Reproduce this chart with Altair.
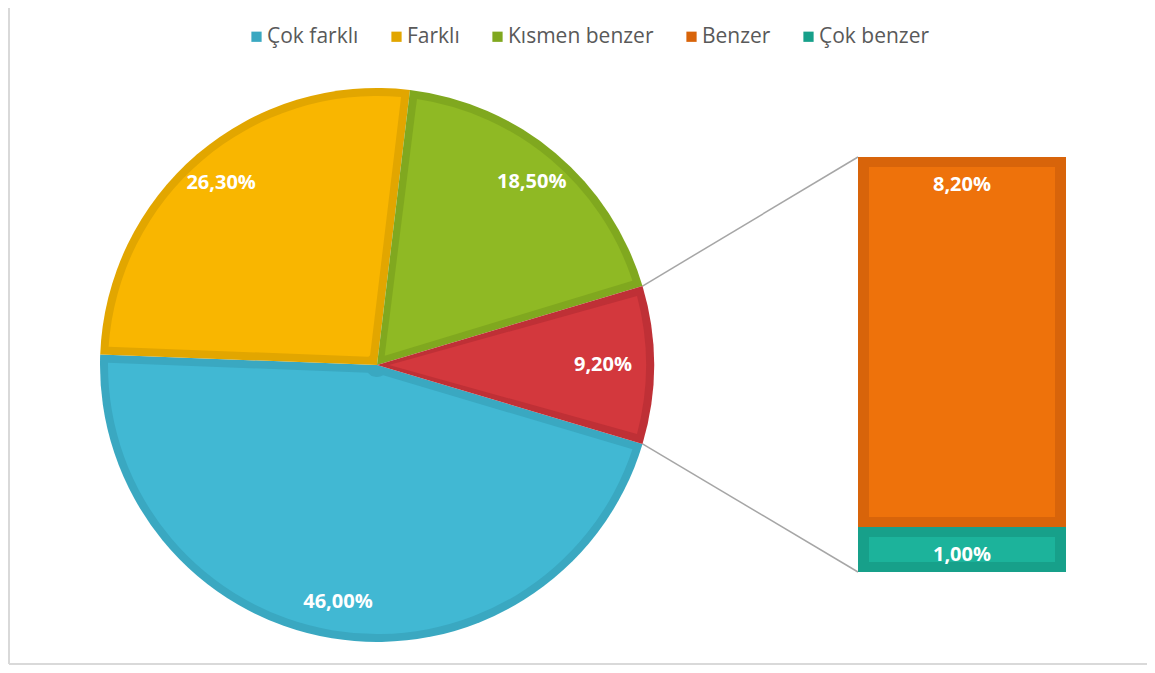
import math
import altair as alt
import pandas as pd

# ---- data ----
pie_labels = ["Çok farklı", "Farklı", "Kısmen benzer", "Diğer"]
pie_values = [46.0, 26.3, 18.5, 9.2]
bar_labels = ["Benzer", "Çok benzer"]
bar_values = [8.2, 1.0]
legend_order = ["Çok farklı", "Farklı", "Kısmen benzer", "Benzer", "Çok benzer"]

# ---- styles ----
cats = pie_labels + bar_labels
dark = ["#3AA8C1", "#E2A600", "#80A81F", "#BF3036", "#D8640A", "#17A08A"]
light = ["#41B8D3", "#F9B600", "#8FB924", "#D3383D", "#EE720B", "#1CB39B"]
FONT = "Open Sans"

W, H = 1139, 657
CX, CY, R = 369, 357, 277
PIE_BORDER = 8
BX0, BX1, BY_TOP, BY_BOT = 850, 1058, 149, 564
BAR_BORDER = 10


def fmt(v):
    return f"{v:.2f}".replace(".", ",") + "%"


total = sum(pie_values)
other_frac = pie_values[-1] / total
start = math.pi / 2 + other_frac * math.pi  # "other" slice centred on the right

pie = pd.DataFrame({
    "cat": pie_labels,
    "value": pie_values,
    "idx": list(range(len(pie_labels))),
})
pie["label_main"] = [fmt(v) if c != "Diğer" else "" for c, v in zip(pie_labels, pie_values)]
pie["label_other"] = [fmt(v) if c == "Diğer" else "" for c, v in zip(pie_labels, pie_values)]

bar_total = sum(bar_values)
bottoms = []
acc = bar_total
for v in bar_values:
    acc -= v
    bottoms.append(acc)
bar = pd.DataFrame({
    "cat": bar_labels,
    "value": bar_values,
    "bottom": bottoms,
    "top": [b + v for b, v in zip(bottoms, bar_values)],
    "label": [fmt(v) for v in bar_values],
})

# connector lines: from the edges of the "other" slice to the bar corners
a_top = start - 2 * math.pi * other_frac
a_bot = start
conn = pd.DataFrame({
    "x": [CX + R * math.sin(a_top), CX + R * math.sin(a_bot)],
    "y": [CY - R * math.cos(a_top), CY - R * math.cos(a_bot)],
    "x2": [BX0, BX0],
    "y2": [BY_TOP, BY_BOT],
})

theta_scale = alt.Scale(range=[start, start + 2 * math.pi])
color_scale = alt.Scale(domain=cats, range=dark)
fill_scale = alt.Scale(domain=cats, range=light)
y_bar = alt.Scale(domain=[0, bar_total], range=[BY_BOT, BY_TOP], nice=False, zero=True)

legend = alt.Legend(
    title=None, values=legend_order, orient="none", direction="horizontal",
    legendX=238, legendY=18, symbolType="square", symbolSize=105,
    symbolStrokeWidth=0, labelFont=FONT, labelFontSize=21, labelColor="#595959",
    columnPadding=27, labelOffset=0,
)

base_pie = alt.Chart(pie).encode(
    theta=alt.Theta("value:Q", stack=True, scale=theta_scale),
    order=alt.Order("idx:Q"),
    x=alt.value(CX), y=alt.value(CY),
)

pie_dark = base_pie.mark_arc(outerRadius=R).encode(
    color=alt.Color("cat:N", scale=color_scale, legend=legend)
)
pie_light = base_pie.mark_arc(
    outerRadius=R - PIE_BORDER, innerRadius=12,
    padAngle=2 * PIE_BORDER / (R - PIE_BORDER),
).encode(fill=alt.Fill("cat:N", scale=fill_scale, legend=None))

pie_text = base_pie.mark_text(
    radius=240, font=FONT, fontSize=20, fontWeight="bold", color="white",
    align="center", baseline="middle",
).encode(text="label_main:N")
pie_text2 = base_pie.mark_text(
    radius=226, font=FONT, fontSize=20, fontWeight="bold", color="white",
    align="center", baseline="middle",
).encode(text="label_other:N")

base_bar = alt.Chart(bar).encode(
    y=alt.Y("top:Q", scale=y_bar, axis=None),
    y2="bottom:Q",
)
bar_dark = base_bar.mark_rect().encode(
    x=alt.value(BX0), x2=alt.value(BX1),
    color=alt.Color("cat:N", scale=color_scale, legend=legend),
)
bar_light = base_bar.mark_rect(yOffset=BAR_BORDER, y2Offset=-BAR_BORDER).encode(
    x=alt.value(BX0 + BAR_BORDER + 1), x2=alt.value(BX1 - BAR_BORDER - 1),
    fill=alt.Fill("cat:N", scale=fill_scale, legend=None),
)
bar_text = alt.Chart(bar).mark_text(
    dy=28, font=FONT, fontSize=20, fontWeight="bold", color="white",
    align="center", baseline="middle",
).encode(
    x=alt.value((BX0 + BX1) / 2),
    y=alt.Y("top:Q", scale=y_bar, axis=None),
    text="label:N",
)

connectors = alt.Chart(conn).mark_rule(color="#A6A6A6", strokeWidth=1.5).encode(
    x=alt.X("x:Q", scale=None), y=alt.Y("y:Q", scale=None),
    x2="x2:Q", y2="y2:Q",
)

frame_left = alt.Chart(pd.DataFrame({"k": [0]})).mark_rule(color="#D9D9D9", strokeWidth=2).encode(
    x=alt.value(1), y=alt.value(0), y2=alt.value(H - 1)
)
frame_bottom = alt.Chart(pd.DataFrame({"k": [0]})).mark_rule(color="#D9D9D9", strokeWidth=2).encode(
    x=alt.value(1), x2=alt.value(W), y=alt.value(H - 1)
)

chart = alt.layer(
    connectors, pie_dark, pie_light, pie_text, pie_text2,
    bar_dark, bar_light, bar_text, frame_left, frame_bottom,
).resolve_scale(
    x="independent", y="independent"
).properties(
    width=W, height=H, padding=0, autosize=alt.AutoSizeParams(type="none"),
    background="white",
).configure_view(stroke=None)

chart.save("out.html", embed_options={"renderer": "svg", "actions": False})
